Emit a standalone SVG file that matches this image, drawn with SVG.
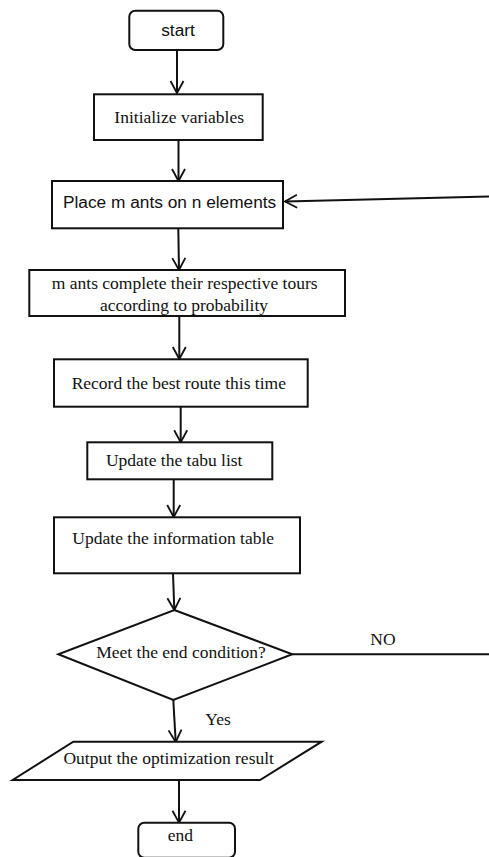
<svg xmlns="http://www.w3.org/2000/svg" width="489" height="857" viewBox="0 0 489 857">
<style>
.box{fill:#fff;stroke:#111;stroke-width:2}
.ser{font-family:"Liberation Serif","Times New Roman",serif;font-size:17.5px;fill:#111;text-anchor:middle}
.sans{font-family:"Liberation Sans",Arial,sans-serif;font-size:17.3px;fill:#111}
.con{fill:none;stroke:#111;stroke-width:2}
</style>
<defs>
<marker id="ah" markerUnits="userSpaceOnUse" markerWidth="16" markerHeight="16" viewBox="0 0 16 16" refX="14" refY="8" orient="auto">
<path d="M2,1.5 L14,8 L2,14.5" fill="none" stroke="#111" stroke-width="1.8"/>
</marker>
</defs>
<rect width="489" height="857" fill="#fff"/>
<g id="connectors">
<line class="con" x1="177" y1="50" x2="177" y2="93" marker-end="url(#ah)"/>
<line class="con" x1="178.5" y1="140" x2="178.5" y2="181" marker-end="url(#ah)"/>
<line class="con" x1="178.3" y1="228.5" x2="179" y2="270" marker-end="url(#ah)"/>
<line class="con" x1="179.3" y1="316" x2="179.3" y2="359" marker-end="url(#ah)"/>
<line class="con" x1="180.7" y1="406.7" x2="180.7" y2="442.3" marker-end="url(#ah)"/>
<line class="con" x1="173.7" y1="479" x2="173.7" y2="517" marker-end="url(#ah)"/>
<line class="con" x1="173" y1="573.3" x2="174.3" y2="610" marker-end="url(#ah)"/>
<line class="con" x1="173.3" y1="700" x2="175.7" y2="742" marker-end="url(#ah)"/>
<line class="con" x1="179" y1="780" x2="179" y2="822.7" marker-end="url(#ah)"/>
<line class="con" x1="292.3" y1="654.3" x2="489" y2="654.3"/>
<line class="con" x1="489" y1="196.5" x2="285" y2="201.5" marker-end="url(#ah)"/>
<text class="ser" x="383" y="645">NO</text>
<text class="ser" x="218" y="725">Yes</text>
</g>
<g id="start">
<rect class="box" x="129.3" y="10.7" width="94" height="39.3" rx="6"/>
<text class="sans" x="178" y="36" text-anchor="middle">start</text>
</g>
<g id="init">
<rect class="box" x="94" y="94.3" width="168.7" height="45.7"/>
<text class="ser" x="179.2" y="123">Initialize variables</text>
</g>
<g id="place">
<rect class="box" x="52" y="181" width="231" height="47.3"/>
<text class="sans" x="63" y="208">Place m ants on n elements</text>
</g>
<g id="tours">
<rect class="box" x="29.3" y="270" width="315.7" height="46"/>
<text class="ser" x="184.7" y="289.3">m ants complete their respective tours</text>
<text class="ser" x="184" y="310.5">according to probability</text>
</g>
<g id="record">
<rect class="box" x="54" y="359.3" width="253.7" height="47.4"/>
<text class="ser" x="178.8" y="389.3">Record the best route this time</text>
</g>
<g id="tabu">
<rect class="box" x="87.3" y="442.3" width="185" height="37"/>
<text class="ser" x="174.2" y="465.7">Update the tabu list</text>
</g>
<g id="info">
<rect class="box" x="54" y="517.3" width="246" height="56"/>
<text class="ser" x="173.2" y="544.3">Update the information table</text>
</g>
<g id="decision">
<polygon class="box" points="174.3,610 292.3,654.3 173.3,700 58.3,654.3"/>
<text class="ser" x="181" y="658.3">Meet the end condition?</text>
</g>
<g id="output">
<polygon class="box" points="73.3,741.7 321.7,741.7 260,780 12.7,780"/>
<text class="ser" x="168.7" y="764.3">Output the optimization result</text>
</g>
<g id="end">
<rect class="box" x="138.3" y="822.7" width="96.7" height="35" rx="6"/>
<text class="ser" x="180.3" y="840.7">end</text>
</g>
</svg>
